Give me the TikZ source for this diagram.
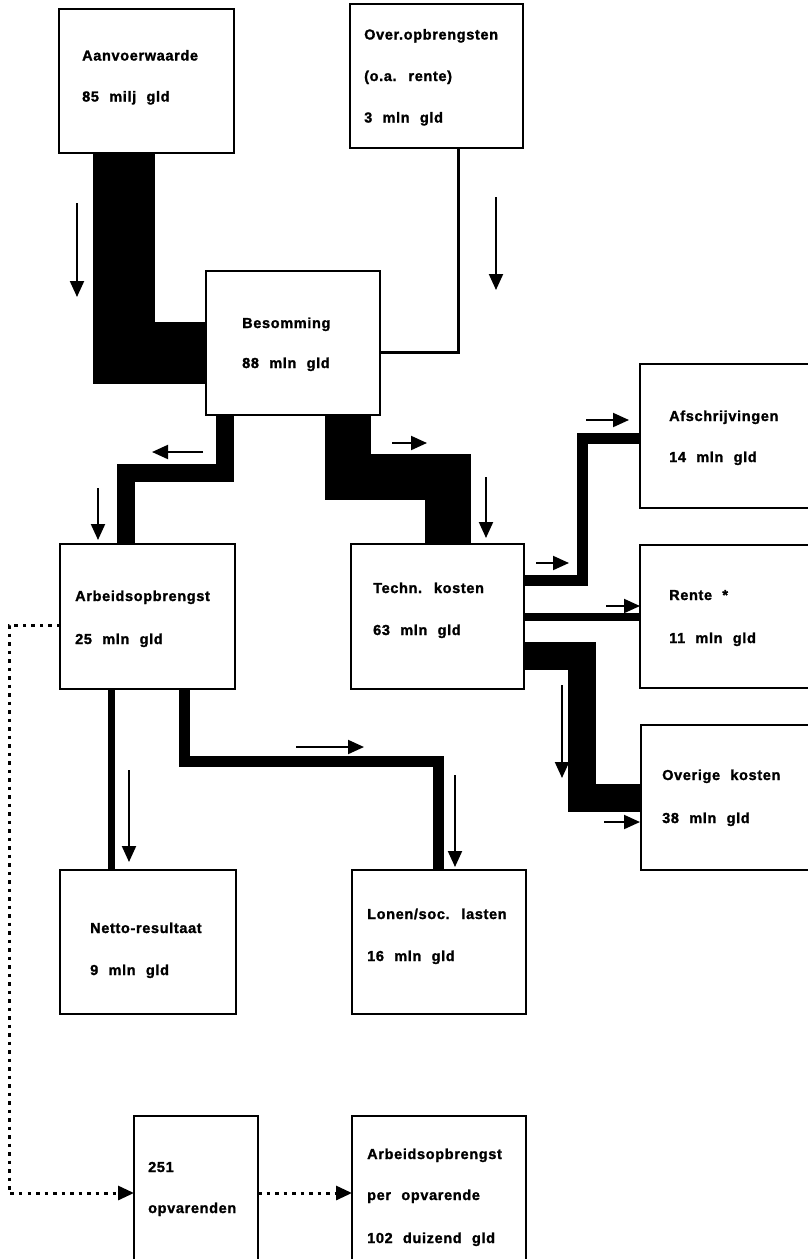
\documentclass[tikz,border=0pt]{standalone}
\usepackage{fontspec}
\setmainfont{Liberation Sans}[LetterSpace=4.5,WordSpace=2.2,BoldFeatures={FakeBold=1.5}]
\usetikzlibrary{arrows.meta}

\begin{document}
\begin{tikzpicture}[x=1pt,y=-1pt,
    box/.style n args={2}{draw,line width=1.6pt,minimum width=#1,minimum height=#2,inner sep=0pt,outer sep=0pt},
    lbl/.style={anchor=base west,inner sep=0pt,font=\fontsize{14.5}{17}\selectfont\bfseries},
    flow/.style={draw,line width=#1},
    flowdir/.style={line width=2pt,-{Triangle[length=16pt,width=14pt]}},
    dotline/.style={line width=3pt,dash pattern=on 3.5pt off 5pt,-{Triangle[length=16pt,width=14pt]}}]
                    \useasboundingbox (0,0) rectangle (808,1259);

                    % boxes
                    \node[box={175pt}{144pt}] (aanvoer) at (146.5,81) {};
                    \node[box={173pt}{144pt}] (overopbr) at (436.5,76) {};
                    \node[box={174pt}{144pt}] (besom) at (293,343) {};
                    \node[box={175pt}{145pt}] (arbeid) at (147.5,616.5) {};
                    \node[box={173pt}{145pt}] (techn) at (437.5,616.5) {};
                    \node[box={172pt}{144pt}] (afschr) at (726,436) {};
                    \node[box={172pt}{143pt}] (rente) at (726,616.5) {};
                    \node[box={171pt}{145pt}] (overig) at (726.5,797.5) {};
                    \node[box={176pt}{144pt}] (netto) at (148,942) {};
                    \node[box={174pt}{144pt}] (lonen) at (439,942) {};
                    \node[box={124pt}{154pt}] (opvar) at (196,1193) {};
                    \node[box={174pt}{154pt}] (perop) at (439,1193) {};

                    % texts
                    \node[lbl] (aanvoer-1) at (82,60.5) {Aanvoerwaarde};
                    \node[lbl] (aanvoer-2) at (82,101.5) {85 milj gld};
                    \node[lbl] (overopbr-1) at (364,39.5) {Over.opbrengsten};
                    \node[lbl] (overopbr-2) at (364,81) {(o.a. rente)};
                    \node[lbl] (overopbr-3) at (364,122.5) {3 mln gld};
                    \node[lbl] (besom-1) at (242,328) {Besomming};
                    \node[lbl] (besom-2) at (242,368) {88 mln gld};
                    \node[lbl] (arbeid-1) at (75,601) {Arbeidsopbrengst};
                    \node[lbl] (arbeid-2) at (75,644) {25 mln gld};
                    \node[lbl] (techn-1) at (373,593) {Techn. kosten};
                    \node[lbl] (techn-2) at (373,635) {63 mln gld};
                    \node[lbl] (afschr-1) at (669,421) {Afschrijvingen};
                    \node[lbl] (afschr-2) at (669,462) {14 mln gld};
                    \node[lbl] (rente-1) at (669,600) {Rente *};
                    \node[lbl] (rente-2) at (669,643) {11 mln gld};
                    \node[lbl] (overig-1) at (662,780) {Overige kosten};
                    \node[lbl] (overig-2) at (662,823) {38 mln gld};
                    \node[lbl] (netto-1) at (90,933) {Netto-resultaat};
                    \node[lbl] (netto-2) at (90,975) {9 mln gld};
                    \node[lbl] (lonen-1) at (367,919) {Lonen/soc. lasten};
                    \node[lbl] (lonen-2) at (367,961) {16 mln gld};
                    \node[lbl] (opvar-1) at (148,1172) {251};
                    \node[lbl] (opvar-2) at (148,1213) {opvarenden};
                    \node[lbl] (perop-1) at (367,1159) {Arbeidsopbrengst};
                    \node[lbl] (perop-2) at (367,1200) {per opvarende};
                    \node[lbl] (perop-3) at (367,1243) {102 duizend gld};

                    % flows
                    \draw[flow=62pt] ([xshift=65pt]aanvoer.south west) |- ([yshift=-9.5pt]besom.west);
                    \draw[flow=3pt] ([xshift=108pt]overopbr.south west) |- ([yshift=-9pt]besom.east);
                    \draw[flow=18pt] ([xshift=19pt]besom.south west) -- ++(0,58) -| ([xshift=66pt]arbeid.north west);
                    \draw[flow=46pt] ([xshift=142pt]besom.south west) -- ++(0,62) -| ([xshift=97pt]techn.north west);
                    \draw[flow=11pt] ([yshift=36.5pt]techn.east) -- ++(58,0) |- ([yshift=-2pt]afschr.west);
                    \draw[flow=8pt] (techn.east) -- (rente.west);
                    \draw[flow=28pt] ([yshift=-39.5pt]techn.east) -- ++(58,0) |- (overig.west);
                    \draw[flow=7pt] ([xshift=51.5pt]arbeid.south west) -- ([xshift=51.5pt]netto.north west);
                    \draw[flow=11pt] ([xshift=124pt]arbeid.south west) -- ++(0,72.5) -| ([xshift=86pt]lonen.north west);

                    % dotted
                    \draw[dotline] ([yshift=-8.5pt]arbeid.west) -- ++(-51,0) |- (opvar.west);
                    \draw[dotline] (opvar.east) -- (perop.west);

                    % direction arrows
                    \foreach \xa/\ya/\xb/\yb in {77/203/77/297, 496/197/496/290, 203/452/152/452, 98/488/98/540,
                        392/443/427/443, 486/477/486/538, 536/563/569/563, 586/420/629/420, 606/606/640/606,
                        562/685/562/778, 604/822/640/822, 129/770/129/862, 296/747/364/747, 455/775/455/867}
                        \draw[flowdir] (\xa,\ya) -- (\xb,\yb);
                \end{tikzpicture}
\end{document}
